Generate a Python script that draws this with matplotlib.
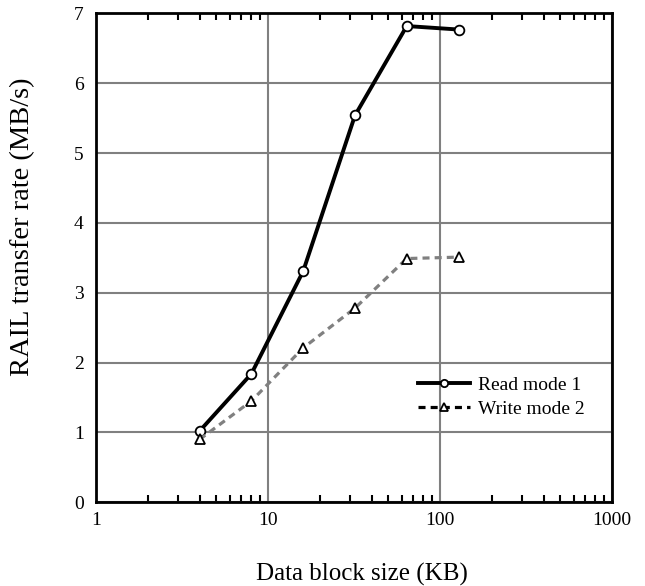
import numpy as np
import matplotlib
matplotlib.use("Agg")
import matplotlib.pyplot as plt
from matplotlib.ticker import LogLocator, NullFormatter, FixedLocator, FixedFormatter

plt.rcParams['font.family'] = ['Liberation Serif', 'DejaVu Serif']

# block sizes (KB) and measured rates (MB/s)
block_kb = [4, 8, 16, 32, 64, 128]
read_rate = [1.02, 1.84, 3.31, 5.54, 6.82, 6.77]
write_rate = [0.90, 1.45, 2.21, 2.78, 3.49, 3.51]

x_ticks = [1, 10, 100, 1000]
x_ticklabels = ['1', '10', '100', '1000']
y_ticks = [0, 1, 2, 3, 4, 5, 6, 7]

fig = plt.figure(figsize=(6.45, 5.86), dpi=100)
ax = fig.add_axes([0.149, 0.143, 0.80, 0.834])

ax.plot(block_kb, read_rate, color='black', lw=2.8, marker='o', ms=7,
        mfc='white', mec='black', mew=1.3, label='Read mode 1', zorder=3)
ax.plot(block_kb, write_rate, color='#808080', lw=2.3, ls=(0, (2.2, 1.6)),
        marker='^', ms=7, mfc='white', mec='black', mew=1.3,
        label='Write mode 2', zorder=3)

ax.set_xscale('log')
ax.set_xlim(1, 1000)
ax.set_ylim(0, 7)
ax.xaxis.set_major_locator(FixedLocator(x_ticks))
ax.xaxis.set_major_formatter(FixedFormatter(x_ticklabels))
ax.xaxis.set_minor_locator(LogLocator(base=10, subs=np.arange(2, 10)))
ax.xaxis.set_minor_formatter(NullFormatter())
ax.set_yticks(y_ticks)

ax.grid(True, which='major', color='#808080', lw=1.5)
ax.set_axisbelow(True)
ax.tick_params(axis='x', which='both', direction='in', top=True, bottom=True,
               labelsize=14, pad=7)
ax.tick_params(axis='x', which='minor', length=5, width=1.5)
ax.tick_params(axis='x', which='major', length=0)
ax.tick_params(axis='y', which='both', length=0, labelsize=14, pad=9)

for sp in ax.spines.values():
    sp.set_linewidth(2)
    sp.set_color('black')

ax.set_xlabel('Data block size (KB)', fontsize=18)
ax.set_ylabel('RAIL transfer rate (MB/s)', fontsize=20.5)
ax.xaxis.set_label_coords(0.516, -0.124)
ax.yaxis.set_label_coords(-0.118, 0.564)

leg = ax.legend(loc='center left', bbox_to_anchor=(0.648, 0.3225),
                bbox_transform=fig.transFigure, frameon=False,
                borderpad=0, borderaxespad=0,
                fontsize=14, handlelength=2.7, handletextpad=0.4,
                labelspacing=0.35, markerscale=0.75)
# legend key for the write series is drawn in black
leg.legend_handles[1].set_color('black')

fig.savefig('out.png', dpi=100)
